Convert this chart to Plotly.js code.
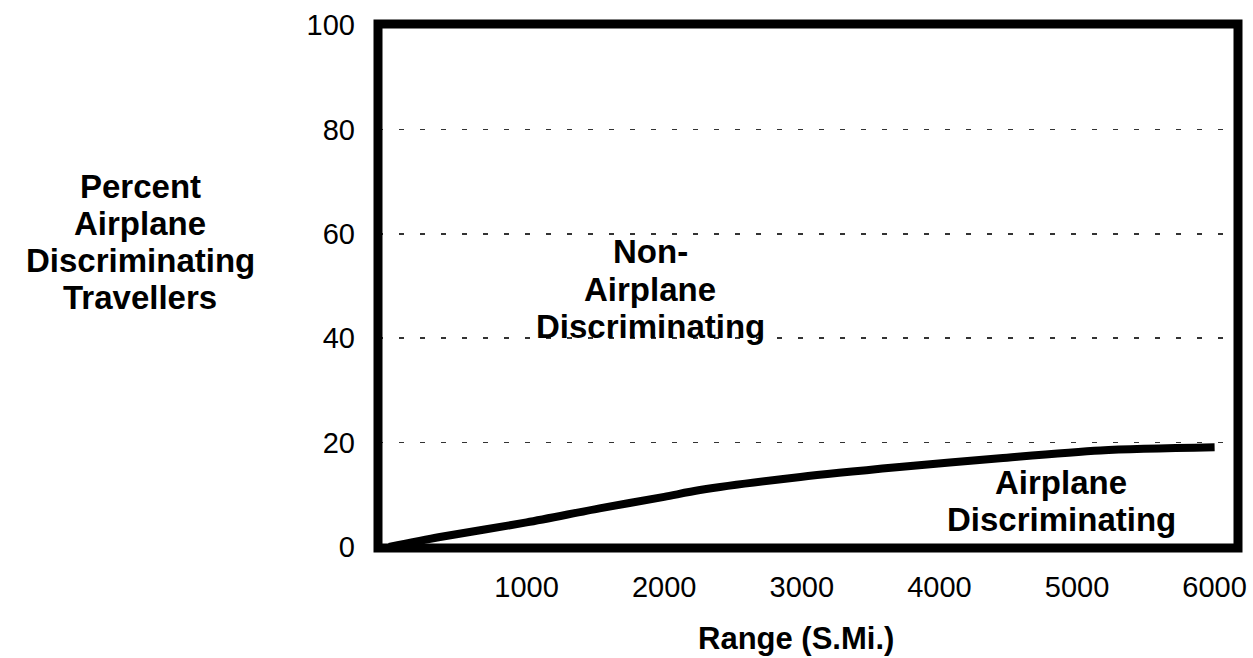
<!DOCTYPE html>
<html>
<head>
<meta charset="utf-8">
<script src="https://cdn.plot.ly/plotly-3.0.1.min.js"></script>
<style>html,body{margin:0;padding:0;background:#fff;}#chart{width:1253px;height:658px;}</style>
</head>
<body>
<div id="chart"></div>
<script>
// Data
const rangeMi = [0, 370, 1000, 1530, 2000, 2260, 2990, 3710, 4440, 5170, 6000];
const pctAirplaneDiscriminating = [0, 1.9, 4.7, 7.4, 9.6, 10.9, 13.4, 15.3, 17.0, 18.5, 19.1];
const xTickVals = [1000, 2000, 3000, 4000, 5000, 6000];
const yTickVals = [0, 20, 40, 60, 80, 100];
const yTitleLines = ["Percent", "Airplane", "Discriminating", "Travellers"];
const upperLabelLines = ["Non-", "Airplane", "Discriminating"];
const lowerLabelLines = ["Airplane", "Discriminating"];
const xTitle = "Range (S.Mi.)";

const FONT = "Liberation Sans, Arial, Helvetica, sans-serif";

const trace = {
  x: rangeMi,
  y: pctAirplaneDiscriminating,
  type: 'scatter',
  mode: 'lines',
  line: {color: '#000', width: 8, shape: 'spline', smoothing: 0.8},
  hoverinfo: 'skip',
  showlegend: false
};

const annotations = [];
function addLines(lines, cx, ys, size) {
  lines.forEach((t, i) => {
    annotations.push({
      text: '<b>' + t + '</b>', xref: 'paper', yref: 'paper',
      x: (cx - 378) / 860, y: (548 - ys[i]) / 524,
      xanchor: 'center', yanchor: 'middle', showarrow: false,
      font: {family: FONT, size: size, color: '#000'}
    });
  });
}
// Y-axis title (multi-line, placed left of plot)
addLines(yTitleLines, 140, [186, 223, 260, 297], 33);
// Upper region label
addLines(upperLabelLines, 650, [252, 289, 326], 33);
// Lower region label
addLines(lowerLabelLines, 1061, [482, 519], 33);
// X-axis title
annotations.push({
  text: '<b>' + xTitle + '</b>', xref: 'paper', yref: 'paper',
  x: (796 - 378) / 860, y: (548 - 638) / 524,
  xanchor: 'center', yanchor: 'middle', showarrow: false,
  font: {family: FONT, size: 31, color: '#000'}
});

const layout = {
  width: 1253, height: 658,
  margin: {l: 378, r: 15, t: 24, b: 110, pad: 0},
  paper_bgcolor: '#fff', plot_bgcolor: '#fff',
  showlegend: false,
  xaxis: {
    range: [-80, 6170],
    tickvals: xTickVals,
    ticktext: xTickVals.map(String),
    ticks: '', showgrid: false, zeroline: false, showline: false,
    ticklabelstandoff: 19,
    tickfont: {family: FONT, size: 29, color: '#000'},
    fixedrange: true
  },
  yaxis: {
    range: [-0.2, 100.2],
    tickvals: yTickVals,
    ticktext: yTickVals.map(String),
    ticks: '', showgrid: true, gridcolor: '#333', gridwidth: 1.6,
    griddash: '5px,16px',
    zeroline: false, showline: false,
    ticklabelstandoff: 22,
    tickfont: {family: FONT, size: 29, color: '#000'},
    fixedrange: true
  },
  shapes: [{
    type: 'rect', xref: 'paper', yref: 'paper',
    x0: 0, x1: 1, y0: 0, y1: 1,
    line: {color: '#000', width: 9}, layer: 'above'
  }],
  annotations: annotations
};

Plotly.newPlot('chart', [trace], layout, {displayModeBar: false, staticPlot: true});
</script>
</body>
</html>
